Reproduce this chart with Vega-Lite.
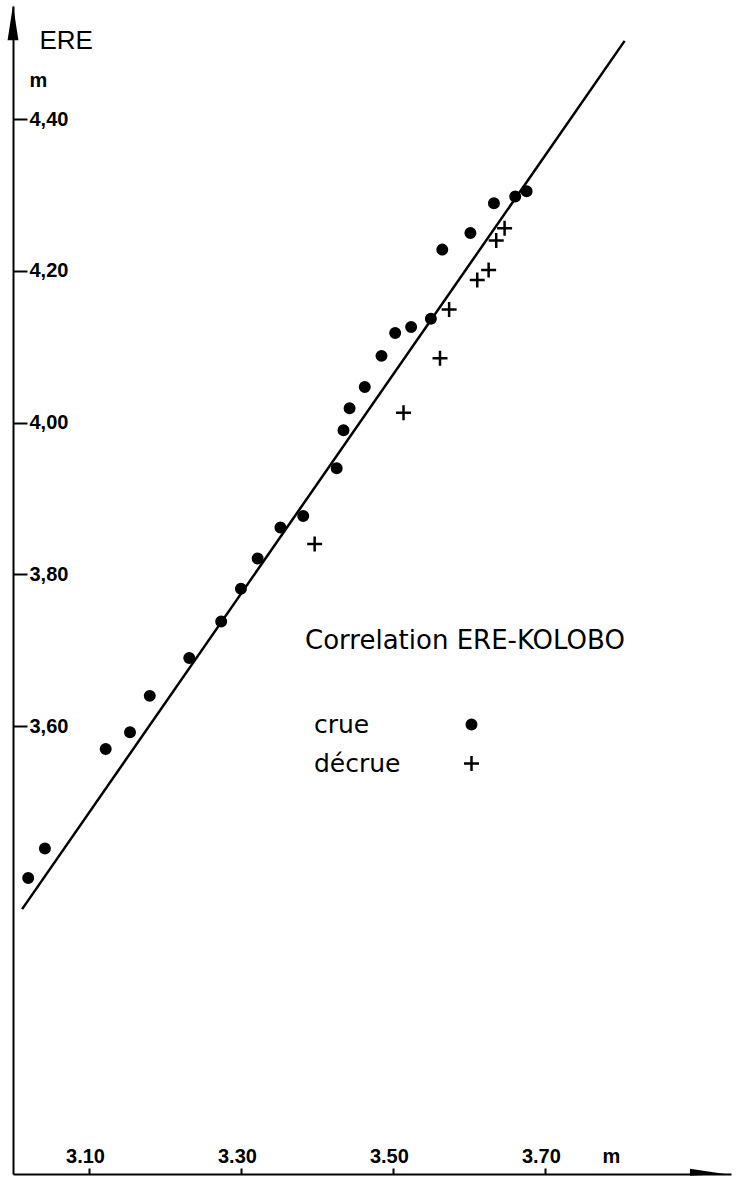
{
  "$schema": "https://vega.github.io/schema/vega-lite/v6.json",
  "width": 718,
  "height": 1168,
  "autosize": {"type": "none"},
  "padding": {"left": 13, "top": 6, "right": 11, "bottom": 3},
  "background": "white",
  "config": {
    "view": {"stroke": null},
    "font": "Liberation Sans",
    "axis": {"domainColor": "black", "tickColor": "black", "labelColor": "black", "titleColor": "black", "grid": false}
  },
  "datasets": {
    "droite": [
      {"kolobo": 3.012, "ere": 3.359},
      {"kolobo": 3.805, "ere": 4.503}
    ],
    "mesures": [
      {"kolobo": 3.020, "ere": 3.400, "phase": "crue"},
      {"kolobo": 3.042, "ere": 3.439, "phase": "crue"},
      {"kolobo": 3.122, "ere": 3.570, "phase": "crue"},
      {"kolobo": 3.154, "ere": 3.592, "phase": "crue"},
      {"kolobo": 3.180, "ere": 3.640, "phase": "crue"},
      {"kolobo": 3.232, "ere": 3.690, "phase": "crue"},
      {"kolobo": 3.274, "ere": 3.738, "phase": "crue"},
      {"kolobo": 3.300, "ere": 3.781, "phase": "crue"},
      {"kolobo": 3.322, "ere": 3.821, "phase": "crue"},
      {"kolobo": 3.352, "ere": 3.862, "phase": "crue"},
      {"kolobo": 3.382, "ere": 3.877, "phase": "crue"},
      {"kolobo": 3.426, "ere": 3.940, "phase": "crue"},
      {"kolobo": 3.435, "ere": 3.990, "phase": "crue"},
      {"kolobo": 3.443, "ere": 4.019, "phase": "crue"},
      {"kolobo": 3.463, "ere": 4.047, "phase": "crue"},
      {"kolobo": 3.485, "ere": 4.088, "phase": "crue"},
      {"kolobo": 3.503, "ere": 4.118, "phase": "crue"},
      {"kolobo": 3.524, "ere": 4.126, "phase": "crue"},
      {"kolobo": 3.550, "ere": 4.137, "phase": "crue"},
      {"kolobo": 3.565, "ere": 4.228, "phase": "crue"},
      {"kolobo": 3.602, "ere": 4.250, "phase": "crue"},
      {"kolobo": 3.633, "ere": 4.289, "phase": "crue"},
      {"kolobo": 3.661, "ere": 4.298, "phase": "crue"},
      {"kolobo": 3.676, "ere": 4.305, "phase": "crue"},
      {"kolobo": 3.397, "ere": 3.840, "phase": "décrue"},
      {"kolobo": 3.514, "ere": 4.013, "phase": "décrue"},
      {"kolobo": 3.562, "ere": 4.085, "phase": "décrue"},
      {"kolobo": 3.574, "ere": 4.149, "phase": "décrue"},
      {"kolobo": 3.611, "ere": 4.188, "phase": "décrue"},
      {"kolobo": 3.626, "ere": 4.201, "phase": "décrue"},
      {"kolobo": 3.636, "ere": 4.240, "phase": "décrue"},
      {"kolobo": 3.647, "ere": 4.256, "phase": "décrue"}
    ],
    "fleches": [
      {"kolobo": 3.0, "ere": 4.527, "sens": "haut"},
      {"kolobo": 3.914, "ere": 3.01, "sens": "droite"}
    ]
  },
  "layer": [
    {
      "data": {"name": "droite"},
      "mark": {"type": "line", "color": "black", "strokeWidth": 2.5},
      "encoding": {
        "x": {
          "field": "kolobo", "type": "quantitative",
          "scale": {"domain": [3.0, 3.945], "nice": false, "zero": false},
          "axis": {
            "orient": "bottom",
            "values": [3.1, 3.3, 3.5, 3.7], "format": ".2f",
            "domainWidth": 2, "tickWidth": 2, "tickSize": -6,
            "labelFont": "Liberation Sans", "labelFontSize": 20, "labelFontWeight": "bold",
            "labelBaseline": "alphabetic", "labelPadding": -6, "labelOffset": -4,
            "labelFlush": false, "labelOverlap": false,
            "title": "m", "titleFont": "Liberation Sans", "titleFontSize": 20, "titleFontWeight": "bold",
            "titleX": 598, "titleY": -12, "titleAlign": "center", "titleBaseline": "alphabetic", "titleAngle": 0
          }
        },
        "y": {
          "field": "ere", "type": "quantitative",
          "scale": {"domain": [3.01, 4.549], "nice": false, "zero": false},
          "axis": {
            "orient": "right", "offset": -718,
            "values": [3.6, 3.8, 4.0, 4.2, 4.4, 4.4506],
            "labelExpr": "datum.value > 4.43 ? 'm' : replace(format(datum.value, '.2f'), '.', ',')",
            "domainWidth": 2, "tickWidth": 2, "tickSize": 14,
            "tickOpacity": {"condition": {"test": "datum.value > 4.43", "value": 0}, "value": 1},
            "labelFont": "Liberation Sans", "labelFontSize": 20, "labelFontWeight": "bold",
            "labelPadding": 2, "labelAlign": "left", "labelFlush": false, "labelOverlap": false,
            "title": "ERE", "titleX": 26, "titleY": 42, "titleAngle": 0,
            "titleAlign": "left", "titleBaseline": "alphabetic",
            "titleFont": "Liberation Sans", "titleFontSize": 26, "titleFontWeight": "normal"
          }
        }
      }
    },
    {
      "data": {"name": "mesures"},
      "mark": {"type": "point", "filled": false, "fill": "black", "fillOpacity": 1, "stroke": "black", "strokeWidth": 2.5, "size": 90, "opacity": 1},
      "encoding": {
        "x": {"field": "kolobo", "type": "quantitative"},
        "y": {"field": "ere", "type": "quantitative"},
        "shape": {
          "field": "phase", "type": "nominal",
          "scale": {"domain": ["crue", "décrue"], "range": ["circle", "M-1.58,0H1.58M0,-1.58V1.58"]},
          "legend": {
            "orient": "none", "legendX": 292, "legendY": 622,
            "title": "Correlation ERE-KOLOBO",
            "titleFont": "DejaVu Sans", "titleFontSize": 26, "titleFontWeight": "normal", "titleColor": "black",
            "titlePadding": 58, "titleLimit": 1000,
            "labelFont": "DejaVu Sans", "labelFontSize": 25, "labelColor": "black", "labelLimit": 400,
            "labelOffset": -170, "symbolOffset": 154,
            "symbolSize": 90, "symbolStrokeWidth": 2.5,
            "rowPadding": 13
          }
        }
      }
    },
    {
      "data": {"name": "fleches"},
      "transform": [{"filter": "datum.sens === 'haut'"}],
      "mark": {"type": "point", "filled": true, "fill": "black", "strokeWidth": 0, "opacity": 1, "size": 1225, "shape": "M0,-1L0.31,1L-0.31,1Z"},
      "encoding": {
        "x": {"field": "kolobo", "type": "quantitative"},
        "y": {"field": "ere", "type": "quantitative"}
      }
    },
    {
      "data": {"name": "fleches"},
      "transform": [{"filter": "datum.sens === 'droite'"}],
      "mark": {"type": "point", "filled": true, "fill": "black", "strokeWidth": 0, "opacity": 1, "size": 1225, "shape": "M1,0L-1,-0.3L-1,0.1Z"},
      "encoding": {
        "x": {"field": "kolobo", "type": "quantitative"},
        "y": {"field": "ere", "type": "quantitative"}
      }
    }
  ]
}
